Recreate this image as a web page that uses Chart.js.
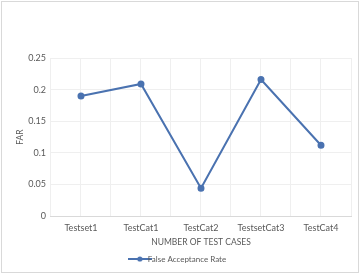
<!DOCTYPE html>
<html><head><meta charset="utf-8">
<script src="https://cdn.jsdelivr.net/npm/chart.js@4/dist/chart.umd.min.js"></script>
<style>html,body{margin:0;padding:0;background:#fff}#wrap{width:361px;height:276px;position:relative}</style>
</head><body><div id="wrap"><canvas id="c" width="361" height="276"></canvas></div>
<script>
const categories = ["Testset1", "TestCat1", "TestCat2", "TestsetCat3", "TestCat4"];
const farValues = [0.190, 0.209, 0.044, 0.216, 0.112];
const seriesName = "False Acceptance Rate";
const yTicks = [0, 0.05, 0.1, 0.15, 0.2, 0.25];
const xTitle = "NUMBER OF TEST CASES";
const yTitle = "FAR";

const color = "#4a72b0";
const font = {family: "Lato, 'Open Sans', sans-serif", size: 9};
const smallFont = {family: "Lato, 'Open Sans', sans-serif", size: 8.5};
const legendFont = {family: "Lato, 'Open Sans', sans-serif", size: 8};
const textColor = "#595959";

const sym = document.createElement('canvas');
sym.width = 24; sym.height = 8;
(function(){const g = sym.getContext('2d'); g.strokeStyle = color; g.lineWidth = 2;
 g.beginPath(); g.moveTo(0,4); g.lineTo(24,4); g.stroke();
 g.fillStyle = color; g.beginPath(); g.arc(12,4,2.6,0,Math.PI*2); g.fill();})();

const borderPlugin = {id:'border', afterDraw(chart){const ctx=chart.ctx; ctx.save(); ctx.strokeStyle='#d9d9d9'; ctx.lineWidth=1; ctx.strokeRect(1.5,1.5,357,271); ctx.restore();}};

new Chart(document.getElementById('c'), {
  type: 'line',
  data: { datasets: [{
    label: seriesName,
    data: farValues.map((v,i)=>({x:i, y:v})),
    borderColor: color, backgroundColor: color, borderWidth: 2,
    pointRadius: 2.5, pointHoverRadius: 2.5, tension: 0
  }]},
  options: {
    responsive: false, animation: false, devicePixelRatio: 1,
    layout: {padding: {top: 58, right: 10, left: 11, bottom: 3}},
    plugins: {
      legend: {position: 'bottom', labels: {color: textColor, font: legendFont, usePointStyle: true,
        generateLabels: (chart)=>[{text: seriesName, pointStyle: sym, fillStyle: color, strokeStyle: color, lineWidth: 0, hidden:false, datasetIndex:0, fontColor: textColor}], padding: 6, boxHeight: 8}},
      tooltip: {enabled: false}
    },
    scales: {
      x: { type: 'linear', min: -0.5, max: 4.5,
        afterBuildTicks: (ax)=>{ const t=[]; for(let k=-1;k<=9;k++) t.push({value:k/2}); ax.ticks=t; },
        ticks: {color: textColor, font: font, maxRotation: 0, autoSkip: false, padding: 7,
          callback: (v)=> Number.isInteger(v) && v>=0 && v<categories.length ? categories[v] : ''},
        grid: {color: '#efefef', drawTicks: false, lineWidth: 1},
        border: {display: true, color: '#d9d9d9'},
        title: {display: true, text: xTitle, color: textColor, font: smallFont, padding: {top: -4, bottom: 2}}
      },
      y: { min: 0, max: 0.25,
        afterBuildTicks: (ax)=>{ ax.ticks = yTicks.map(v=>({value:v})); },
        ticks: {color: textColor, font: font, padding: 5, callback: (v)=> String(+v.toFixed(2))},
        grid: {color: '#efefef', drawTicks: false},
        border: {display: false},
        title: {display: true, text: yTitle, color: textColor, font: smallFont, padding: {top: 4, bottom: -2}}
      }
    }
  },
  plugins: [borderPlugin]
});
</script></body></html>
